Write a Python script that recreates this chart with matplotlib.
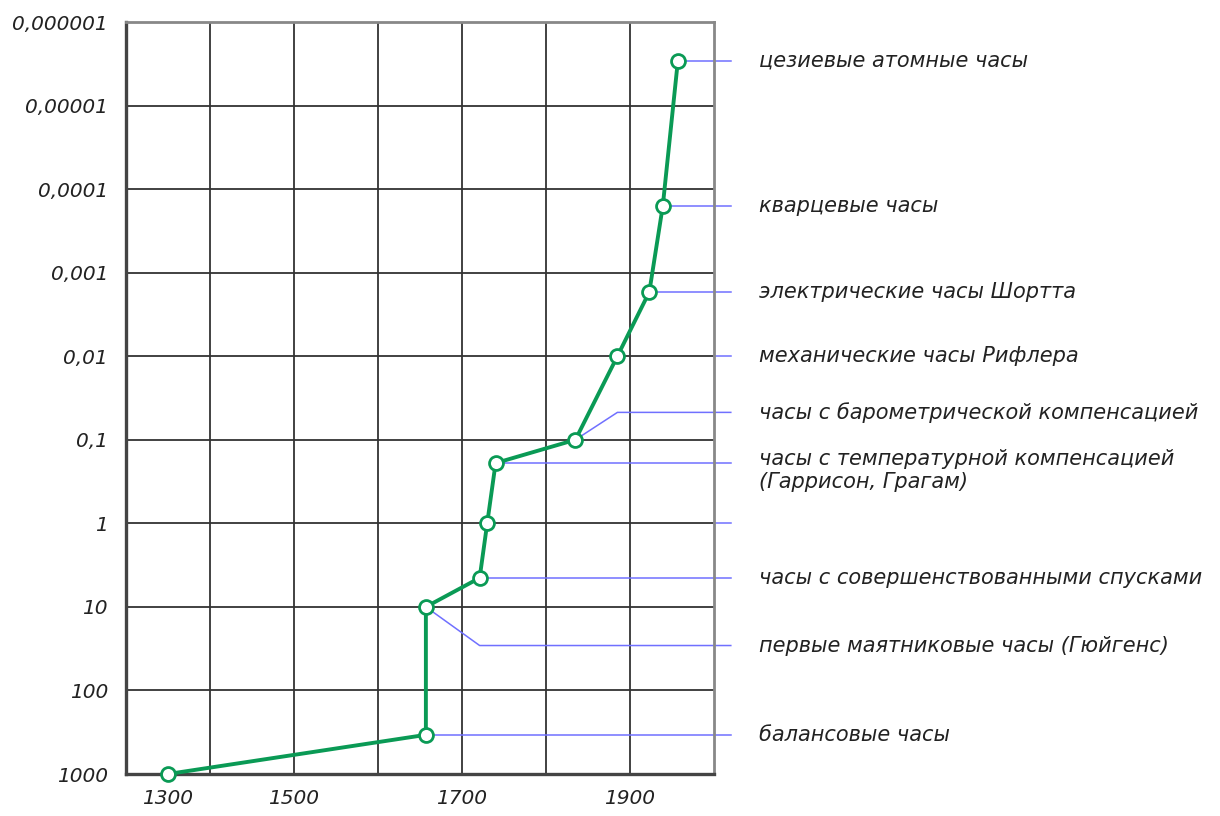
import matplotlib.pyplot as plt
import numpy as np

# Accuracy of clocks over time (error, s/day)
years = [1350, 1657, 1657, 1721, 1730, 1740, 1835, 1885, 1923, 1939, 1957]
errors = [1000, 340, 10, 4.5, 1, 0.19, 0.1, 0.01, 0.0017, 0.00016, 0.0000029]

# labels on the right: index of point, label, label value, elbow year
label_points = [10, 9, 8, 7, 6, 5, 4, 3, 2, 1]
label_texts = [
    "цезиевые атомные часы",
    "кварцевые часы",
    "электрические часы Шортта",
    "механические часы Рифлера",
    "часы с барометрической компенсацией",
    "часы с температурной компенсацией\n(Гаррисон, Грагам)",
    "",
    "часы с совершенствованными спусками",
    "первые маятниковые часы (Гюйгенс)",
    "балансовые часы",
]
label_values = [0.0000029, 0.00016, 0.0017, 0.01, 0.047, 0.19, 1, 4.5, 29, 340]
label_elbows = [None, None, None, None, 1885, None, None, None, 1721, None]

ytick_values = [1e-6, 1e-5, 1e-4, 1e-3, 1e-2, 1e-1, 1, 10, 100, 1000]
ytick_text = ["0,000001", "0,00001", "0,0001", "0,001", "0,01", "0,1",
              "1", "10", "100", "1000"]
xtick_years = [1350, 1500, 1700, 1900]
xtick_text = ["1300", "1500", "1700", "1900"]

plt.rcParams['font.family'] = ['DejaVu Sans']
plt.rcParams['font.style'] = 'oblique'

fig = plt.figure(figsize=(12.2, 8.16), dpi=100)
ax = fig.add_axes([126 / 1220, 42 / 816, 588 / 1220, 752 / 816])

ax.set_yscale('log')
ax.set_xlim(1300, 2000)
ax.set_ylim(1000, 1e-6)

# grid
for gx in np.arange(1400, 2000, 100):
    ax.axvline(gx, color='#333333', linewidth=1.3, zorder=1)
ax.set_xticks(xtick_years)
ax.set_xticklabels(xtick_text, fontsize=14.5, color='#222222')
ax.set_yticks(ytick_values)
ax.set_yticklabels(ytick_text, fontsize=14.5, color='#222222')
ax.yaxis.set_minor_locator(plt.NullLocator())
ax.tick_params(which='both', length=0)
ax.tick_params(axis='y', pad=13)
ax.tick_params(axis='x', pad=11)
ax.grid(True, which='major', axis='y', color='#333333', linewidth=1.3)

for side in ['left', 'bottom']:
    ax.spines[side].set_color('#444444')
    ax.spines[side].set_linewidth(2.4)
for side in ['top', 'right']:
    ax.spines[side].set_color('#888888')
    ax.spines[side].set_linewidth(2.0)

# leader lines and labels
x_end = 2020
x_text = 2054
for idx, txt, val, elb in zip(label_points, label_texts, label_values, label_elbows):
    px, py = years[idx], errors[idx]
    if elb is not None:
        xs = [px, elb, x_end]
        ys = [py, val, val]
    elif np.isclose(np.log10(py), round(np.log10(py))):
        xs = [2000, x_end]
        ys = [val, val]
    else:
        xs = [px, x_end]
        ys = [val, val]
    ax.plot(xs, ys, color='#7070ff', linewidth=1.1, clip_on=False, zorder=2.5)
    if txt:
        if "\n" in txt:
            ax.annotate(txt, (x_text, val), xytext=(0, 10), textcoords='offset points',
                        va='top', ha='left', fontsize=15, color='#222222',
                        linespacing=1.2, annotation_clip=False)
        else:
            ax.text(x_text, val, txt, va='center', ha='left', fontsize=15,
                    color='#222222')

# main line
ax.plot(years, errors, color='#0a9a55', linewidth=2.8, zorder=3, clip_on=False,
        marker='o', markersize=10, markerfacecolor='white',
        markeredgecolor='#0a9a55', markeredgewidth=2)

fig.savefig('out.png', dpi=100)
